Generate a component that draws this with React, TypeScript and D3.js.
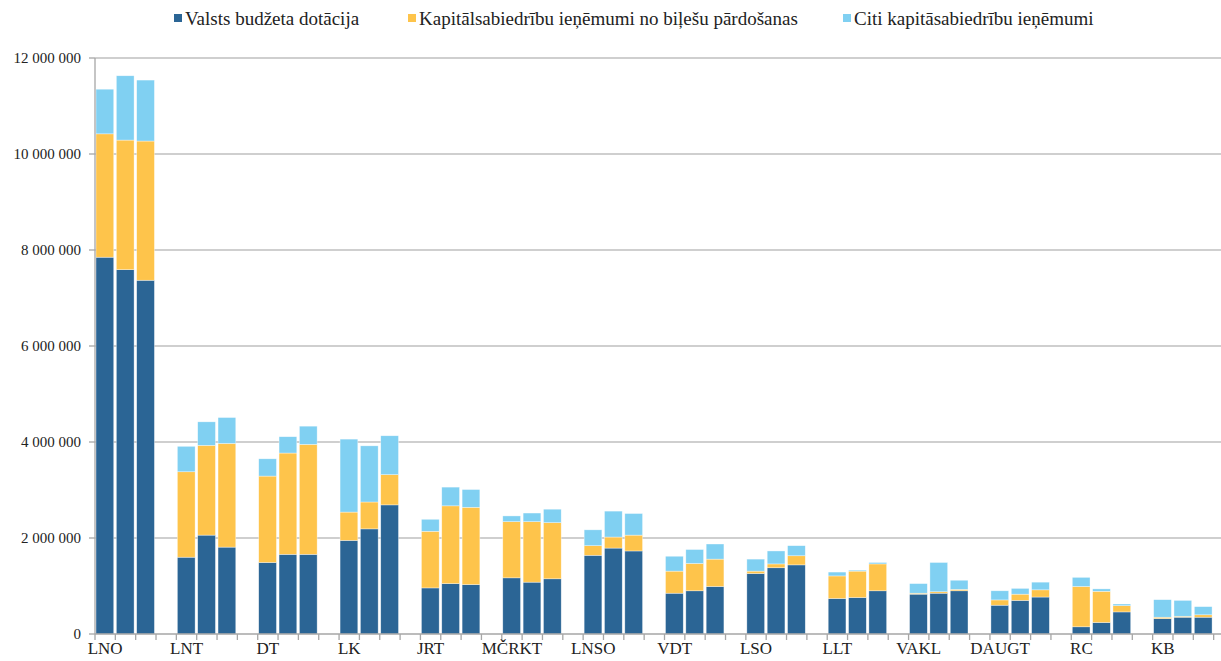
import React from "react";
import * as d3 from "d3";

const categories = ["LNO", "LNT", "DT", "LK", "JRT", "MČRKT", "LNSO", "VDT", "LSO", "LLT", "VAKL", "DAUGT", "RC", "KB"];

// values in millions, three bars per category
const stateGrant = [
  [7.85, 7.59, 7.37], [1.60, 2.06, 1.81], [1.49, 1.66, 1.66], [1.95, 2.19, 2.69],
  [0.96, 1.05, 1.03], [1.17, 1.08, 1.15], [1.64, 1.79, 1.73], [0.85, 0.90, 0.99],
  [1.26, 1.38, 1.44], [0.74, 0.76, 0.90], [0.83, 0.85, 0.90], [0.60, 0.70, 0.77],
  [0.15, 0.24, 0.46], [0.32, 0.35, 0.35],
];
const ticketRevenue = [
  [2.57, 2.70, 2.90], [1.78, 1.87, 2.16], [1.80, 2.11, 2.29], [0.59, 0.56, 0.63],
  [1.18, 1.62, 1.61], [1.17, 1.26, 1.17], [0.20, 0.23, 0.33], [0.46, 0.57, 0.57],
  [0.05, 0.08, 0.19], [0.47, 0.55, 0.56], [0.02, 0.03, 0.03], [0.11, 0.13, 0.15],
  [0.84, 0.65, 0.13], [0.03, 0.02, 0.05],
];
const otherRevenue = [
  [0.93, 1.34, 1.27], [0.53, 0.49, 0.54], [0.36, 0.34, 0.38], [1.52, 1.17, 0.81],
  [0.25, 0.39, 0.37], [0.12, 0.18, 0.28], [0.33, 0.54, 0.45], [0.31, 0.29, 0.315],
  [0.25, 0.27, 0.21], [0.08, 0.02, 0.03], [0.20, 0.61, 0.19], [0.19, 0.12, 0.16],
  [0.19, 0.05, 0.035], [0.365, 0.33, 0.17],
];

const seriesNames = ["Valsts budžeta dotācija", "Kapitālsabiedrību ieņēmumi no biļešu pārdošanas", "Citi kapitāsabiedrību ieņēmumi"];
const seriesColors = ["#2B6595", "#FEC44B", "#80D0F2"];
const yTicks = [0, 2000000, 4000000, 6000000, 8000000, 10000000, 12000000];

const W = 1221;
const H = 661;
const left = 95;
const right = 1234;
const top = 58;
const bottom = 634;
const slotsPerGroup = 4;
const FONT = '"Liberation Serif", "Times New Roman", Times, serif';

export default function App() {
  const nSlots = categories.length * slotsPerGroup;
  const x = d3.scaleLinear().domain([0, nSlots]).range([left, right]);
  const y = d3.scaleLinear().domain([0, 12000000]).range([bottom, top]);
  const slotW = x(1) - x(0);
  const fmt = (v: number) => d3.format(",")(v).replace(/,/g, " ");
  const allSeries = [stateGrant, ticketRevenue, otherRevenue];

  const bars: React.ReactNode[] = [];
  categories.forEach((c, ci) => {
    for (let b = 0; b < 3; b++) {
      const slot = ci * slotsPerGroup + b;
      let acc = 0;
      allSeries.forEach((s, si) => {
        const v = s[ci][b] * 1e6;
        const y0 = y(acc);
        const y1 = y(acc + v);
        acc += v;
        bars.push(
          <rect key={`${ci}-${b}-${si}`} x={x(slot) + 1} y={y1} width={slotW - 2.6} height={Math.max(0, y0 - y1)}
            fill={seriesColors[si]} stroke="#ffffff" strokeOpacity={0.6} strokeWidth={0.6} />
        );
      });
    }
  });

  const legendX = [174, 408, 843];
  const textStyle = { fontFamily: FONT };

  return (
    <svg width={W} height={H} style={{ position: "absolute", left: 0, top: 0, background: "#fff" }}>
      {yTicks.filter((t) => t > 0).map((t) => (
        <line key={`g${t}`} x1={left} x2={right} y1={y(t)} y2={y(t)} stroke="#BFBFBF" strokeWidth={1.3} />
      ))}
      {bars}
      <line x1={left} x2={left} y1={top} y2={bottom} stroke="#A6A6A6" strokeWidth={1.3} />
      <line x1={left} x2={right} y1={bottom} y2={bottom} stroke="#A6A6A6" strokeWidth={1.3} />
      {yTicks.map((t) => (
        <g key={`t${t}`}>
          <line x1={left - 6} x2={left} y1={y(t)} y2={y(t)} stroke="#A6A6A6" strokeWidth={1.3} />
          <text x={81} y={y(t)} dy="0.35em" textAnchor="end" fontSize={15} fill="#222" style={textStyle}>{fmt(t)}</text>
        </g>
      ))}
      {d3.range(nSlots + 1).map((i) => (
        <line key={`xt${i}`} x1={x(i)} x2={x(i)} y1={bottom} y2={bottom + 6} stroke="#A6A6A6" strokeWidth={1.3} />
      ))}
      {categories.map((c, ci) => (
        <text key={c} x={x(ci * slotsPerGroup + 0.5)} y={bottom + 20} textAnchor="middle" fontSize={17} fill="#222" style={textStyle}>{c}</text>
      ))}
      {seriesNames.map((n, i) => (
        <g key={n}>
          <rect x={legendX[i]} y={14} width={8} height={8} fill={seriesColors[i]} />
          <text x={legendX[i] + 11} y={25} fontSize={19} fill="#222" style={textStyle}>{n}</text>
        </g>
      ))}
    </svg>
  );
}
